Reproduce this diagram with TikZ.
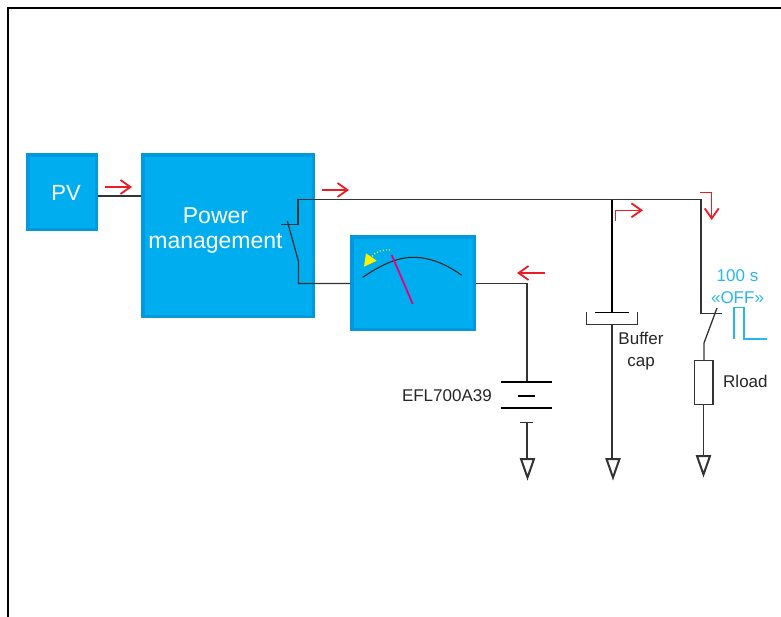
\documentclass[tikz,border=0pt]{standalone}
\usepackage{fontspec}
\setmainfont{Liberation Sans}
\usepackage{tikz}
\usetikzlibrary{positioning, arrows.meta, calc}
\definecolor{blockfill}{HTML}{00AEEF}
\definecolor{blockedge}{HTML}{0099DD}
\definecolor{flowred}{HTML}{ED1C24}
\definecolor{offblue}{HTML}{29B6EE}
\definecolor{needlepink}{HTML}{E6007E}
\definecolor{wirecol}{HTML}{333333}
\tikzset{
	block/.style={draw=blockedge, line width=3.5pt, fill=blockfill, text=white, inner sep=0pt, align=center},
	wire/.style={draw=wirecol, line width=1.3pt},
	plate/.style={draw=black, line width=1.7pt},
	flow/.style={draw=flowred, line width=1.4pt, -{Straight Barb[length=10pt, width=14pt, line width=1.8pt]}},
	lbl/.style={font=\fontsize{17}{22}\selectfont, text=black!85, inner sep=0pt, align=center},
	ground/.pic={\draw[wirecol, line width=2pt, fill=white] (-6.5,0) -- (6.5,0) -- (0,18.5) -- cycle;}
}
\begin{document}
\begin{tikzpicture}[x=1pt, y=-1pt]
	\useasboundingbox (0,0) rectangle (781,616);
	\draw[line width=2.4pt, color=black] (8,620) -- (8,8) -- (785,8);
	% blocks
	\node[block, minimum width=68.5pt, minimum height=74.5pt] (pv) at (62,192) {};
	\node[font=\fontsize{22}{26}\selectfont, text=white, inner sep=0pt] (pvtext) at (66,193) {PV};
	\node[block, minimum width=170.5pt, minimum height=161.5pt] (pm) at (228,235.5) {};
	\node[font=\fontsize{23}{25}\selectfont, text=white, align=center, inner sep=0pt] (pmtext) at (215.5,230) {Power\\management};
	\node[block, minimum width=122.5pt, minimum height=92.5pt] (meter) at (413,283) {};
	% wires
	\coordinate (pvout) at (98,196);
	\coordinate (railleft) at (298,199.5);
	\coordinate (capjoin) at (612,199.5);
	\coordinate (loadjoin) at (701,199.5);
	\coordinate (swtop) at (281,224.7);
	\coordinate (swpin) at (298.5,261.5);
	\coordinate (swlow) at (298.5,283.5);
	\coordinate (batjoin) at (527,283.5);
	\draw[wire] (pvout) -- (pm.west |- pvout);
	\draw[wire] (swtop) -- (298,224.7) -- (railleft) -- (loadjoin) -- (701,313.5) -- (722,313.5);
	\draw[wire] (287.3,221) -- (swpin) -- (swlow) -- (meter.west |- swlow);
	\draw[wire] (meter.east |- batjoin) -- (batjoin) -- (527,382);
	% meter
	\draw[black!85, line width=1.1pt] (362.7,277.3) .. controls (381,265) and (397,257.3) .. (413,257.3) .. controls (430,257.3) and (446,264) .. (461.7,275.3);
	\draw[needlepink, line width=1.8pt] (391.7,255) -- (412.7,304);
	\draw[yellow, line width=1.1pt, dotted] (390,250) .. controls (382,249) and (375,252) .. (371.7,257);
	\fill[yellow] (366,253.3) -- (376.7,260.7) -- (364,266.7) -- cycle;
	% battery
	\draw[plate] (500.7,382) -- (552.3,382);
	\draw[plate, line width=2.2pt] (517.7,396) -- (535,396);
	\draw[plate] (500.7,408.3) -- (552.3,408.3);
	\draw[wire, line width=1.6pt] (520,422.3) -- (533,422.3);
	\draw[wire] (527,422.3) -- (527,459);
	\pic at (527.5,459) {ground};
	\node[lbl, anchor=east] (batname) at (492,396) {EFL700A39};
	% buffer cap
	\draw[black, line width=1.7pt] (capjoin) -- (612,312.5);
	\draw[plate] (595,312.5) -- (629,312.5);
	\draw[wire] (586.5,312) -- (586.5,324.5) -- (637.5,324.5) -- (637.5,312);
	\draw[wire] (612,324.5) -- (612,459);
	\pic at (613,459) {ground};
	\node[lbl] (capname) at (641,351) {Buffer\\cap};
	% load
	\draw[wire] (717,308) -- (704,343) -- (704,361);
	\draw[wire, fill=white] (694.5,360.5) rectangle (713,404.5);
	\draw[wire] (703.5,404.5) -- (703.5,456);
	\pic at (703.5,456) {ground};
	\node[lbl, anchor=west] (loadname) at (723,381) {Rload};
	\node[font=\fontsize{17}{22}\selectfont, text=offblue, align=center, inner sep=0pt] (offtext) at (737.5,287) {100 s\\«OFF»};
	\draw[offblue, line width=1.2pt] (734,339) -- (734,307.5) -- (744,307.5) -- (744,339) -- (767,339);
	% current marks
	\draw[flow] (105,187) -- (132,187);
	\draw[flow] (322,190) -- (349,190);
	\draw[flow] (545,273) -- (517,273);
	\draw[flow] (615.7,220.7) -- (615.7,210.3) -- (643,210.3);
	\draw[flow] (700,192.7) -- (711.7,192.7) -- (711.7,220);
\end{tikzpicture}
\end{document}
